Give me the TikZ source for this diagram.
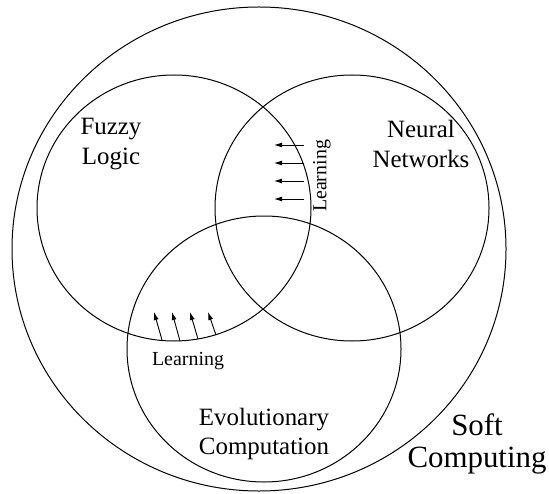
\documentclass[tikz,border=0pt]{standalone}
\usepackage{fontspec}
\setmainfont{Liberation Serif}
\usetikzlibrary{arrows.meta}

\begin{document}
\begin{tikzpicture}[x=1bp,y=-1bp,line width=1bp]
\tikzstyle{freccia} = [-{Latex[length=8bp,width=5bp]}, line width=0.9bp]
\tikzstyle{insieme} = [align=center, font=\fontsize{25}{30}\selectfont]
\tikzstyle{apprendo} = [font=\fontsize{20}{24}\selectfont]
\useasboundingbox (0,0) rectangle (549,494);
\draw (259,249) ellipse (247 and 242);
\draw (174,208) ellipse (137 and 133);
\draw (352,208) ellipse (137 and 133);
\draw (264,349) ellipse (137 and 133);
\node[insieme] (fl) at (111,144) {Fuzzy\\Logic};
\node[insieme] (nn) at (421,144) {Neural\\Networks};
\node[insieme] (ec) at (264,434) {Evolutionary\\Computation};
\node[align=center, font=\fontsize{31}{33}\selectfont] (sc) at (477,444) {Soft\\Computing};
\node[apprendo, rotate=90] (ln) at (322,176) {Learning};
\node[apprendo] (le) at (188,361) {Learning};
\coordinate (p1) at (304,145); \coordinate (q1) at (274,145);
\coordinate (p2) at (304,163); \coordinate (q2) at (274,163);
\coordinate (p3) at (304,181); \coordinate (q3) at (274,181);
\coordinate (p4) at (304,199); \coordinate (q4) at (274,199);
\coordinate (r1) at (162,340); \coordinate (s1) at (154,312);
\coordinate (r2) at (180,341); \coordinate (s2) at (172,312);
\coordinate (r3) at (198,339); \coordinate (s3) at (190,312);
\coordinate (r4) at (216,335); \coordinate (s4) at (208,312);
\draw[freccia] (p1) -- (q1);
\draw[freccia] (p2) -- (q2);
\draw[freccia] (p3) -- (q3);
\draw[freccia] (p4) -- (q4);
\draw[freccia] (r1) -- (s1);
\draw[freccia] (r2) -- (s2);
\draw[freccia] (r3) -- (s3);
\draw[freccia] (r4) -- (s4);
\end{tikzpicture}
\end{document}
